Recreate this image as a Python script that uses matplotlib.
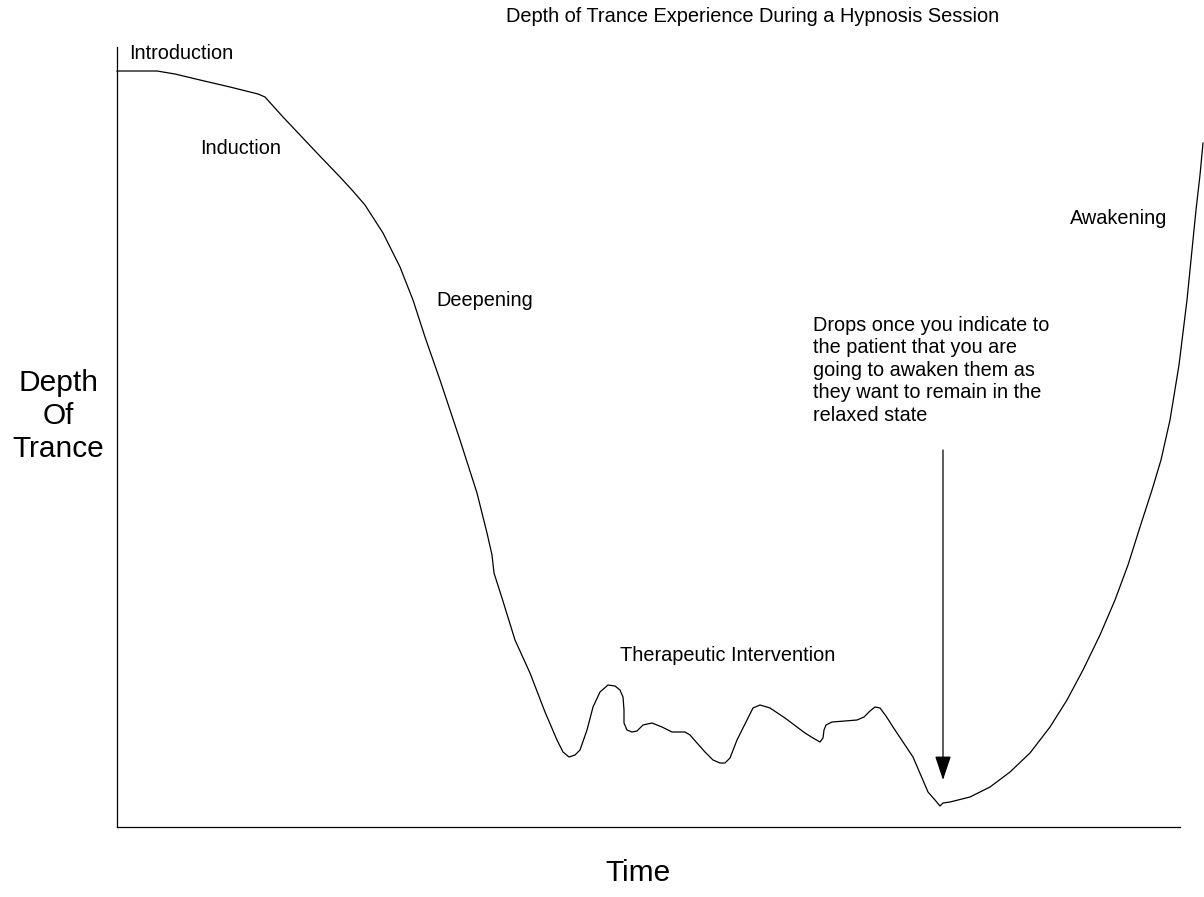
import matplotlib.pyplot as plt

plt.rcParams['font.family'] = ['Liberation Sans', 'DejaVu Sans']

# time / depth (pixels from the axis origin)
time = [0, 40, 58, 83, 113, 133, 141, 148, 166, 200, 223, 235, 248, 266, 283, 296,
        308, 323, 343, 360, 370, 375, 377, 385, 398, 413, 428, 440, 446, 452, 458,
        463, 470, 476, 483, 491, 498, 503, 506, 507, 507, 510, 515, 520, 526, 535,
        545, 555, 568, 573, 580, 588, 596, 603, 608, 613, 620, 628, 636, 643, 653,
        668, 680, 688, 696, 703, 706, 707, 709, 715, 728, 740, 747, 753, 758, 763,
        769, 776, 796, 811, 818, 823, 826, 833, 853, 873, 893, 913, 933, 950, 966,
        983, 998, 1011, 1023, 1035, 1044, 1053, 1062, 1070, 1075, 1079, 1083, 1086]
depth = [756, 756, 753, 747, 740, 735, 733, 730, 710, 674, 650, 637, 622, 594, 560,
         527, 490, 447, 387, 334, 294, 272, 254, 229, 187, 154, 115, 87, 75, 70, 72,
         77, 97, 120, 135, 142, 141, 137, 130, 117, 104, 97, 95, 96, 102, 104, 100,
         95, 95, 92, 84, 75, 67, 64, 64, 69, 87, 103, 119, 122, 119, 109, 100, 94,
         89, 85, 89, 97, 102, 105, 106, 107, 110, 116, 120, 119, 111, 100, 70, 35,
         27, 21, 24, 25, 30, 40, 55, 74, 100, 127, 157, 192, 227, 262, 300, 337,
         367, 407, 462, 527, 577, 617, 652, 684]

# arrow: from under the note down toward the low point
arrow_time = 826
arrow_from = 377
arrow_to = 47

note = ('Drops once you indicate to\nthe patient that you are\n'
        'going to awaken them as\nthey want to remain in the\nrelaxed state')

fig = plt.figure(figsize=(12.04, 8.97), dpi=100)
ax = fig.add_axes([117 / 1204, 70 / 897, 1063 / 1204, 780 / 897])
ax.set_xlim(0, 1063)
ax.set_ylim(0, 780)

ax.plot(time, depth, color='black', lw=0.9, clip_on=False, solid_joinstyle='round')

ax.annotate('', xy=(arrow_time, arrow_to), xytext=(arrow_time, arrow_from),
            arrowprops=dict(arrowstyle='-|>,head_length=1.5,head_width=0.5',
                            color='black', lw=0.9, shrinkA=0, shrinkB=0))

for s in ['top', 'right']:
    ax.spines[s].set_visible(False)
for s in ['left', 'bottom']:
    ax.spines[s].set_linewidth(0.9)
ax.set_xticks([])
ax.set_yticks([])

fs = 14.3
ax.text(12, 773, 'Introduction', fontsize=fs, va='center')
ax.text(83, 679, 'Induction', fontsize=fs, va='center')
ax.text(319, 527, 'Deepening', fontsize=fs, va='center')
ax.text(503, 172, 'Therapeutic Intervention', fontsize=fs, va='center')
ax.text(953, 609, 'Awakening', fontsize=fs, va='center')
ax.text(696, 511, note, fontsize=fs, va='top', linespacing=1.23)

fig.text(753 / 1204, 1 - 17 / 897, 'Depth of Trance Experience During a Hypnosis Session',
         fontsize=14.4, ha='center', va='center')
fig.text(58 / 1204, 1 - 416 / 897, 'Depth\nOf\nTrance', fontsize=21.5,
         ha='center', va='center', linespacing=1.23)
fig.text(638 / 1204, 1 - 873 / 897, 'Time', fontsize=21.5, ha='center', va='center')

fig.savefig('out.png', dpi=100)
